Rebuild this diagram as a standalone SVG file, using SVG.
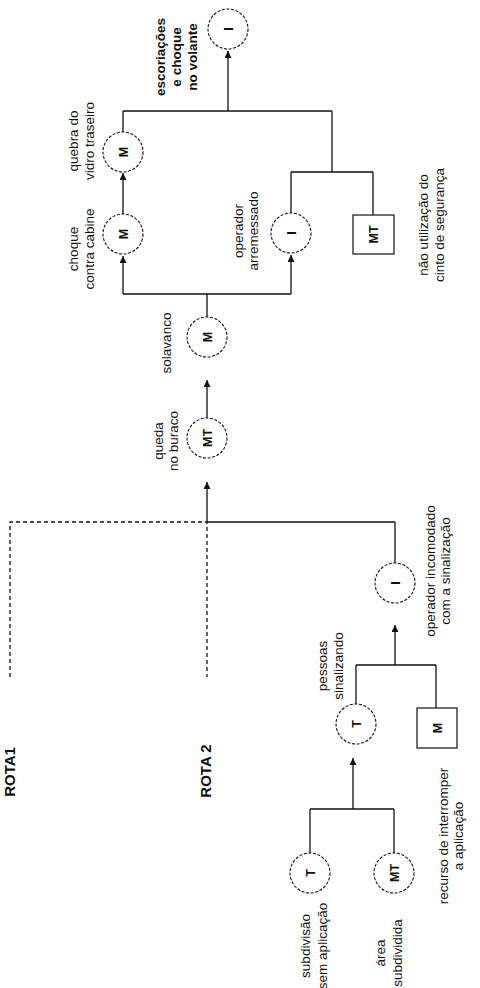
<svg xmlns="http://www.w3.org/2000/svg" width="480" height="988" viewBox="0 0 480 988">
<defs>
<marker id="ah" viewBox="0 0 10 10" refX="10" refY="5" markerWidth="7" markerHeight="7" markerUnits="userSpaceOnUse" orient="auto">
<path d="M0,0 L10,5 L0,10 z" fill="#111"/>
</marker>
<style>
.c{fill:#fff;stroke:#111;stroke-width:1.1;stroke-dasharray:3 1.6}
.b{fill:#fff;stroke:#111;stroke-width:1.2}
.l{fill:none;stroke:#111;stroke-width:1.3}
.a{fill:none;stroke:#111;stroke-width:1.3;marker-end:url(#ah)}
.d{fill:none;stroke:#111;stroke-width:1.3;stroke-dasharray:4 3}
.k{font-family:"Liberation Sans",Arial,sans-serif;font-size:12.5px;font-weight:bold;text-anchor:middle;fill:#111}
.t{font-family:"Liberation Sans",Arial,sans-serif;font-size:13.5px;text-anchor:middle;fill:#111}
.tb{font-family:"Liberation Sans",Arial,sans-serif;font-size:13.5px;font-weight:bold;text-anchor:middle;fill:#111}
.r{font-family:"Liberation Sans",Arial,sans-serif;font-size:15px;font-weight:bold;text-anchor:middle;fill:#111}
</style>
</defs>
<rect width="480" height="988" fill="#fff"/>

<g id="connectors">
<line class="a" x1="207" y1="418" x2="207" y2="380"/>
<line class="l" x1="207" y1="317" x2="207" y2="294"/>
<line class="l" x1="123" y1="294" x2="291" y2="294"/>
<line class="a" x1="123" y1="294" x2="123" y2="256"/>
<line class="a" x1="291" y1="294" x2="291" y2="255"/>
<line class="a" x1="123" y1="214" x2="123" y2="173"/>
<line class="l" x1="123" y1="132" x2="123" y2="111"/>
<line class="l" x1="123" y1="111" x2="332" y2="111"/>
<line class="a" x1="228" y1="111" x2="228" y2="51"/>
<line class="l" x1="332" y1="111" x2="332" y2="172"/>
<line class="l" x1="291" y1="172" x2="373" y2="172"/>
<line class="l" x1="291" y1="172" x2="291" y2="213"/>
<line class="l" x1="373" y1="172" x2="373" y2="215"/>
<line class="a" x1="207" y1="522" x2="207" y2="482"/>
<line class="l" x1="207" y1="522" x2="395" y2="522"/>
<line class="l" x1="395" y1="522" x2="395" y2="563"/>
<line class="a" x1="395" y1="665" x2="395" y2="625"/>
<line class="l" x1="356" y1="665" x2="436" y2="665"/>
<line class="l" x1="356" y1="665" x2="356" y2="704"/>
<line class="l" x1="436" y1="665" x2="436" y2="708"/>
<line class="a" x1="353" y1="809" x2="353" y2="758"/>
<line class="l" x1="310" y1="809" x2="394" y2="809"/>
<line class="l" x1="310" y1="809" x2="310" y2="853"/>
<line class="l" x1="394" y1="809" x2="394" y2="853"/>
<path class="d" d="M10,677 V522 H207 V677"/>
</g>

<g id="n_escoriacoes">
<circle class="c" cx="228" cy="29" r="20"/>
<text class="k" transform="translate(232.5,29) rotate(-90)">I</text>
<text class="tb" transform="translate(165,57) rotate(-90)"><tspan x="0" y="0">escoriações</tspan><tspan x="0" y="16">e choque</tspan><tspan x="0" y="32">no volante</tspan></text>
</g>

<g id="n_quebra">
<circle class="c" cx="123" cy="152" r="20"/>
<text class="k" transform="translate(127.5,152) rotate(-90)">M</text>
<text class="t" transform="translate(78,141) rotate(-90)"><tspan x="0" y="0">quebra do</tspan><tspan x="0" y="16">vidro traseiro</tspan></text>
</g>

<g id="n_choque">
<circle class="c" cx="123" cy="234" r="20"/>
<text class="k" transform="translate(127.5,234) rotate(-90)">M</text>
<text class="t" transform="translate(78,249) rotate(-90)"><tspan x="0" y="0">choque</tspan><tspan x="0" y="16">contra cabine</tspan></text>
</g>

<g id="n_solavanco">
<circle class="c" cx="207" cy="337" r="20"/>
<text class="k" transform="translate(211.5,337) rotate(-90)">M</text>
<text class="t" transform="translate(171,343) rotate(-90)">solavanco</text>
</g>

<g id="n_queda">
<circle class="c" cx="207" cy="438" r="20"/>
<text class="k" transform="translate(211.5,438) rotate(-90)">MT</text>
<text class="t" transform="translate(163,441) rotate(-90)"><tspan x="0" y="0">queda</tspan><tspan x="0" y="15">no buraco</tspan></text>
</g>

<g id="n_arremessado">
<circle class="c" cx="291" cy="233" r="20"/>
<text class="k" transform="translate(295.5,233) rotate(-90)">I</text>
<text class="t" transform="translate(243,231) rotate(-90)"><tspan x="0" y="0">operador</tspan><tspan x="0" y="15">arremessado</tspan></text>
</g>

<g id="n_cinto">
<rect class="b" x="353" y="215" width="41" height="39"/>
<text class="k" transform="translate(378,234.5) rotate(-90)">MT</text>
<text class="t" transform="translate(428,225) rotate(-90)"><tspan x="0" y="0">não utilização do</tspan><tspan x="0" y="16">cinto de segurança</tspan></text>
</g>

<g id="n_incomodado">
<circle class="c" cx="395" cy="583" r="20"/>
<text class="k" transform="translate(399.5,583) rotate(-90)">I</text>
<text class="t" transform="translate(435,571) rotate(-90)"><tspan x="0" y="0">operador incomodado</tspan><tspan x="0" y="15">com a sinalização</tspan></text>
</g>

<g id="n_pessoas">
<circle class="c" cx="356" cy="724" r="20"/>
<text class="k" transform="translate(360.5,724) rotate(-90)">T</text>
<text class="t" transform="translate(327,666) rotate(-90)"><tspan x="0" y="0">pessoas</tspan><tspan x="0" y="16">sinalizando</tspan></text>
</g>

<g id="n_recurso">
<rect class="b" x="417" y="708" width="40" height="40"/>
<text class="k" transform="translate(441.5,728) rotate(-90)">M</text>
<text class="t" transform="translate(448,836) rotate(-90)"><tspan x="0" y="0">recurso de interromper</tspan><tspan x="0" y="15">a aplicação</tspan></text>
</g>

<g id="n_subdivisao">
<circle class="c" cx="310" cy="873" r="20"/>
<text class="k" transform="translate(314.5,873) rotate(-90)">T</text>
<text class="t" transform="translate(310,946) rotate(-90)"><tspan x="0" y="0">subdivisão</tspan><tspan x="0" y="17">sem  aplicação</tspan></text>
</g>

<g id="n_area">
<circle class="c" cx="394" cy="873" r="20"/>
<text class="k" transform="translate(398.5,873) rotate(-90)">MT</text>
<text class="t" transform="translate(385,953) rotate(-90)"><tspan x="0" y="0">área</tspan><tspan x="0" y="17">subdividida</tspan></text>
</g>

<g id="rota1">
<text class="r" transform="translate(15,772) rotate(-90)">ROTA1</text>
</g>
<g id="rota2">
<text class="r" transform="translate(211,771) rotate(-90)">ROTA 2</text>
</g>
</svg>
